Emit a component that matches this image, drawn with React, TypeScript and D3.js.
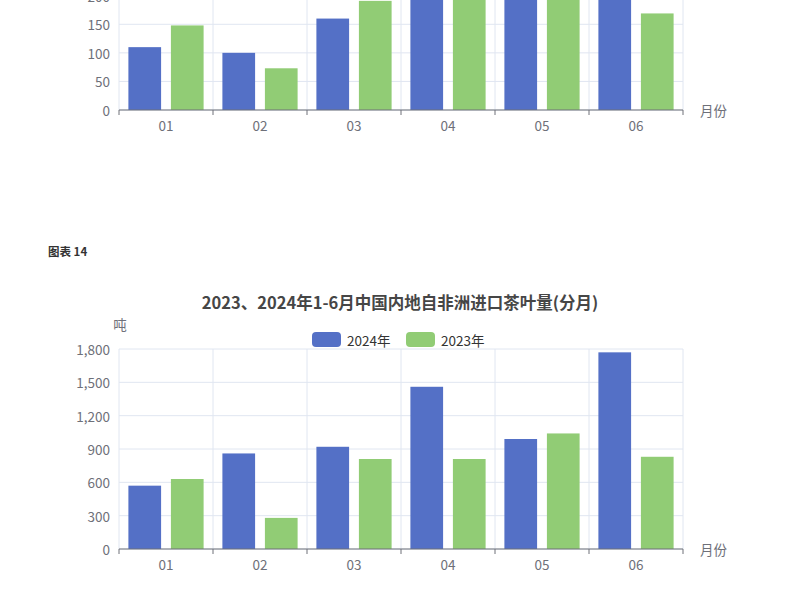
import { useEffect } from "react";
import * as d3 from "d3";

const FONT = '"Noto Sans CJK SC", "Noto Sans", sans-serif';
const BLUE = "#5470c6";
const GREEN = "#91cc75";
const AXIS = "#6e7079";
const GRID = "#e0e6f1";

const months = ["01", "02", "03", "04", "05", "06"];
const seriesNames = ["2024年", "2023年"];

// upper chart, only its lower part is visible in the page
const upper2024 = [110, 100, 160, 240, 220, 250];
const upper2023 = [148, 73, 191, 230, 210, 169];
const upperTicks = [0, 50, 100, 150, 200, 250, 300, 350];

// 图表 14
const lower2024 = [570, 860, 920, 1460, 990, 1770];
const lower2023 = [630, 280, 810, 810, 1040, 830];
const lowerTicks = [0, 300, 600, 900, 1200, 1500, 1800];

const LEFT = 119;
const RIGHT = 683;
const GRID_TOP = 349;
const GRID_BOTTOM = 549;
const UPPER_SHIFT = -439;

type PanelProps = {
  shift: number;
  a: number[];
  b: number[];
  ticks: number[];
};

function BarPanel({ shift, a, b, ticks }: PanelProps) {
  const top = GRID_TOP + shift;
  const bottom = GRID_BOTTOM + shift;
  const x = d3.scaleBand<string>().domain(months).range([LEFT, RIGHT]);
  const y = d3
    .scaleLinear()
    .domain([0, ticks[ticks.length - 1]])
    .range([bottom, top]);
  const fmt = d3.format(",");
  const step = x.step();
  // echarts-like: 20% category gap, 30% bar gap
  const barW = (step * 0.8) / (2 + 0.3);
  const gap = barW * 0.3;
  const series = [
    { values: a, color: BLUE },
    { values: b, color: GREEN },
  ];
  // labels that would sit wholly above the page are not drawn
  const shownTicks = ticks.filter((t) => y(t) > -10);

  return (
    <g>
      {ticks.map((t) => (
        <line key={`h${t}`} x1={LEFT} x2={RIGHT} y1={y(t)} y2={y(t)} stroke={GRID} />
      ))}
      {[...months.map((m) => x(m) ?? 0), RIGHT].map((bx, i) => (
        <line key={`v${i}`} x1={bx} x2={bx} y1={top} y2={bottom} stroke={GRID} />
      ))}
      {series.map((s, si) =>
        s.values.map((v, i) => {
          const x0 = (x(months[i]) ?? 0) + step * 0.1 + si * (barW + gap);
          return (
            <rect
              key={`b${si}-${i}`}
              x={x0}
              y={y(v)}
              width={barW}
              height={bottom - y(v)}
              fill={s.color}
            />
          );
        }),
      )}
      <line x1={LEFT} x2={RIGHT} y1={bottom} y2={bottom} stroke={AXIS} />
      {[...months.map((m) => x(m) ?? 0), RIGHT].map((bx, i) => (
        <line key={`t${i}`} x1={bx} x2={bx} y1={bottom} y2={bottom + 5} stroke={AXIS} />
      ))}
      {shownTicks.map((t) => (
        <text
          key={`yl${t}`}
          x={LEFT - 9}
          y={y(t)}
          textAnchor="end"
          dominantBaseline="central"
          fontSize={13.5}
          fill={AXIS}
        >
          {fmt(t)}
        </text>
      ))}
      {months.map((m) => (
        <text
          key={`xl${m}`}
          x={(x(m) ?? 0) + step / 2}
          y={bottom + 15}
          textAnchor="middle"
          dominantBaseline="central"
          fontSize={13.5}
          fill={AXIS}
        >
          {m}
        </text>
      ))}
      <text x={RIGHT + 17} y={bottom} dominantBaseline="central" fontSize={13.5} fill={AXIS}>
        月份
      </text>
    </g>
  );
}

export default function App() {
  useEffect(() => {
    document.body.style.margin = "0";
  }, []);

  return (
    <svg width={800} height={600} style={{ display: "block", fontFamily: FONT }}>
      <rect width={800} height={600} fill="#ffffff" />
      <BarPanel shift={UPPER_SHIFT} a={upper2024} b={upper2023} ticks={upperTicks} />

      <text x={48} y={251} dominantBaseline="central" fontSize={11.5} fontWeight="bold" fill="#333">
        图表 14
      </text>
      <text
        x={400}
        y={302}
        textAnchor="middle"
        dominantBaseline="central"
        fontSize={16.5}
        fontWeight="bold"
        fill="#464646"
      >
        2023、2024年1-6月中国内地自非洲进口茶叶量(分月)
      </text>
      <text x={120} y={324} textAnchor="middle" dominantBaseline="central" fontSize={13.5} fill={AXIS}>
        吨
      </text>
      {seriesNames.map((name, i) => {
        const lx = 312 + i * 94;
        return (
          <g key={name}>
            <rect x={lx} y={332} width={29} height={15} rx={4} fill={i === 0 ? BLUE : GREEN} />
            <text x={lx + 35} y={339.5} dominantBaseline="central" fontSize={13.5} fill="#333">
              {name}
            </text>
          </g>
        );
      })}
      <BarPanel shift={0} a={lower2024} b={lower2023} ticks={lowerTicks} />
    </svg>
  );
}
